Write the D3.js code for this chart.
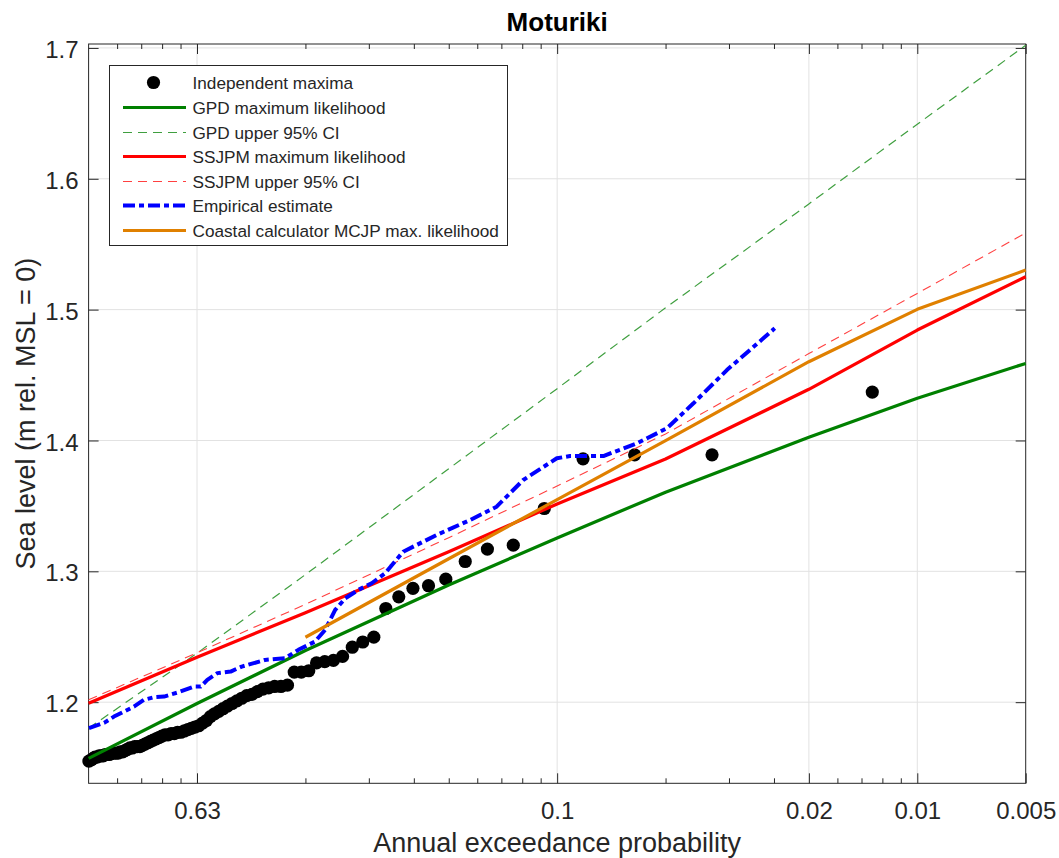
<!DOCTYPE html>
<html><head><meta charset="utf-8">
<script src="https://cdn.jsdelivr.net/npm/d3@7"></script>
<style>body{margin:0;background:#fff}svg{display:block}</style>
</head><body><svg id="c" width="1059" height="858"></svg>
<script>
// ---------- data ----------
const title = "Moturiki";
const xLabel = "Annual exceedance probability";
const yLabel = "Sea level (m rel. MSL = 0)";
// x axis is average recurrence interval (years), labelled by AEP
const xTickARI = [1, 10, 50, 100, 200];
const xTickLabels = ["0.63", "0.1", "0.02", "0.01", "0.005"];
const xMinorARI = [0.6, 0.7, 0.8, 0.9, 2, 3, 4, 5, 6, 7, 8, 9, 20, 30, 40, 60, 70, 80, 90];
const yTicks = [1.2, 1.3, 1.4, 1.5, 1.6, 1.7];

// Independent maxima
const maximaARI = [75.0, 26.92, 16.41, 11.80, 9.211, 7.554, 6.402, 5.556, 4.907, 4.393, 3.977, 3.633, 3.344, 3.097,
  2.885, 2.699, 2.536, 2.392, 2.263, 2.147, 2.043, 1.948, 1.862, 1.783, 1.710, 1.643, 1.581, 1.524, 1.470, 1.421,
  1.374, 1.331, 1.291, 1.251, 1.215, 1.181, 1.149, 1.118, 1.089, 1.062, 1.036, 1.011, 0.987, 0.964, 0.943, 0.922,
  0.902, 0.883, 0.865, 0.847, 0.831, 0.815, 0.799, 0.784, 0.770, 0.756, 0.743, 0.730, 0.717, 0.705, 0.694, 0.682,
  0.671, 0.661, 0.651, 0.641, 0.631, 0.622, 0.613, 0.604, 0.595, 0.587, 0.579, 0.571, 0.563, 0.556, 0.549, 0.542,
  0.535, 0.528, 0.521, 0.515, 0.509, 0.501];
const maximaLevel = [1.437, 1.389, 1.389, 1.386, 1.348, 1.320, 1.317, 1.3075, 1.294, 1.289, 1.287, 1.2805, 1.2716, 1.2497,
  1.246, 1.242, 1.235, 1.232, 1.231, 1.230, 1.224, 1.223, 1.223, 1.213, 1.212, 1.212, 1.211, 1.210, 1.208, 1.206,
  1.205, 1.203, 1.201, 1.199, 1.197, 1.195, 1.193, 1.191, 1.189, 1.186, 1.184, 1.182, 1.181, 1.180, 1.179, 1.178,
  1.177, 1.177, 1.176, 1.176, 1.175, 1.175, 1.174, 1.173, 1.172, 1.171, 1.170, 1.169, 1.168, 1.167, 1.166, 1.166,
  1.166, 1.165, 1.165, 1.164, 1.163, 1.162, 1.162, 1.161, 1.161, 1.161, 1.161, 1.160, 1.160, 1.160, 1.159, 1.159,
  1.159, 1.158, 1.158, 1.157, 1.156, 1.155];

const fitARI = [0.5, 1, 2, 5, 10, 20, 50, 100, 200];
const gpdML = [1.157, 1.199, 1.2395, 1.2895, 1.3255, 1.3605, 1.4025, 1.4322, 1.4589];
const gpdUpper = [1.1801, 1.2374, 1.2975, 1.3784, 1.4396, 1.5014, 1.5808, 1.6417, 1.702];
const ssjpmML = [1.1992, 1.2344, 1.2684, 1.3149, 1.3515, 1.3858, 1.4391, 1.4844, 1.5251];
const ssjpmUpper = [1.2018, 1.2377, 1.2748, 1.3257, 1.3652, 1.405, 1.4664, 1.5124, 1.5586];

const empiricalARI = [0.501, 0.552, 0.588, 0.668, 0.712, 0.760, 0.810, 0.882, 0.981, 1.024, 1.068, 1.139, 1.240,
  1.331, 1.544, 1.756, 1.912, 2.126, 2.268, 2.419, 2.580, 2.805, 3.055, 3.328, 3.737, 4.628, 5.73, 6.79, 8.05,
  9.98, 10.86, 13.44, 16.64, 20.17, 23.9, 29.6, 40.2];
const empiricalLevel = [1.1801, 1.1842, 1.189, 1.1966, 1.2018, 1.2038, 1.2043, 1.2073, 1.2119, 1.2119, 1.217, 1.2222, 1.2234,
  1.2272, 1.2323, 1.2336, 1.240, 1.2463, 1.2552, 1.2705, 1.2794, 1.2858, 1.2909, 1.2985, 1.315, 1.3278, 1.3392, 1.3494, 1.3698,
  1.3864, 1.3881, 1.3881, 1.3978, 1.4093, 1.4284, 1.4538, 1.4857];

const mcjpARI = [2, 5, 10, 20, 50, 100, 200];
const mcjpML = [1.2496, 1.3096, 1.3548, 1.3999, 1.4602, 1.5002, 1.5302];

const legendLabels = ["Independent maxima", "GPD maximum likelihood", "GPD upper 95% CI", "SSJPM maximum likelihood",
  "SSJPM upper 95% CI", "Empirical estimate", "Coastal calculator MCJP max. likelihood"];

// ---------- drawing ----------
const FONT = "'Liberation Sans', Arial, Helvetica, sans-serif";
const AX = "#262626";
const svg = d3.select("#c");
const L = 88.6, R = 1025.7, T = 44, B = 783.3;
const x = d3.scaleLog().domain([0.5, 200]).range([L, R]);
const y = d3.scaleLinear().domain([1.138, 1.703]).range([B, T]);

svg.append("rect").attr("width", 1059).attr("height", 858).attr("fill", "#fff");

// grid
const grid = svg.append("g").attr("stroke", "#e2e2e2").attr("stroke-width", 1);
xTickARI.slice(0, 4).forEach(d => grid.append("line").attr("x1", x(d)).attr("x2", x(d)).attr("y1", T).attr("y2", B));
yTicks.forEach(d => grid.append("line").attr("x1", L).attr("x2", R).attr("y1", y(d)).attr("y2", y(d)));

// axes
function styleAxis(g) {
  g.select(".domain").remove();
  g.selectAll(".tick line").attr("stroke", AX);
  g.selectAll(".tick text").attr("fill", AX).style("font-family", FONT).style("font-size", "24px");
}
svg.append("g").attr("transform", `translate(0,${B})`)
  .call(d3.axisBottom(x).tickValues(xTickARI).tickFormat((d, i) => xTickLabels[i]).tickSize(-10).tickPadding(19))
  .call(styleAxis);
svg.append("g").attr("transform", `translate(0,${B})`)
  .call(d3.axisBottom(x).tickValues(xMinorARI).tickFormat("").tickSize(-5)).call(styleAxis);
svg.append("g").attr("transform", `translate(0,${T})`)
  .call(d3.axisTop(x).tickValues(xTickARI).tickFormat("").tickSize(-10)).call(styleAxis);
svg.append("g").attr("transform", `translate(0,${T})`)
  .call(d3.axisTop(x).tickValues(xMinorARI).tickFormat("").tickSize(-5)).call(styleAxis);
svg.append("g").attr("transform", `translate(${L},0)`)
  .call(d3.axisLeft(y).tickValues(yTicks).tickFormat(d3.format(".1f")).tickSize(-10).tickPadding(10))
  .call(styleAxis).selectAll(".tick text").attr("dy", "0.4em");
svg.append("g").attr("transform", `translate(${R},0)`)
  .call(d3.axisRight(y).tickValues(yTicks).tickFormat("").tickSize(-10)).call(styleAxis);

svg.append("rect").attr("x", L).attr("y", T).attr("width", R - L).attr("height", B - T)
  .attr("fill", "none").attr("stroke", AX).attr("stroke-width", 1);

// marks
const line = d3.line().x(d => x(d[0])).y(d => y(d[1]));
const zip = (a, b) => a.map((v, i) => [v, b[i]]);

svg.append("g").selectAll("circle").data(zip(maximaARI, maximaLevel)).join("circle")
  .attr("cx", d => x(d[0])).attr("cy", d => y(d[1])).attr("r", 6.6).attr("fill", "#000");

const styles = {
  gpdML: {stroke: "#008000", w: 3.2, dash: null},
  gpdUp: {stroke: "#3f9f3f", w: 1.2, dash: "9,6"},
  ssML: {stroke: "#ff0000", w: 3.2, dash: null},
  ssUp: {stroke: "#ff4040", w: 1.1, dash: "9,6"},
  emp: {stroke: "#0000ff", w: 4, dash: "12,4,5,4"},
  mcjp: {stroke: "#e08000", w: 3.2, dash: null}
};
function drawLine(data, st) {
  svg.append("path").datum(data).attr("d", line).attr("fill", "none")
    .attr("stroke", st.stroke).attr("stroke-width", st.w)
    .attr("stroke-dasharray", st.dash).attr("stroke-linejoin", "round");
}
drawLine(zip(fitARI, gpdML), styles.gpdML);
drawLine(zip(fitARI, gpdUpper), styles.gpdUp);
drawLine(zip(fitARI, ssjpmML), styles.ssML);
drawLine(zip(fitARI, ssjpmUpper), styles.ssUp);
drawLine(zip(empiricalARI, empiricalLevel), styles.emp);
drawLine(zip(mcjpARI, mcjpML), styles.mcjp);

// legend
const lg = svg.append("g");
lg.append("rect").attr("x", 109.5).attr("y", 65.5).attr("width", 398).attr("height", 180)
  .attr("fill", "#fff").attr("stroke", AX).attr("stroke-width", 1);
const legStyles = [null, styles.gpdML, styles.gpdUp, styles.ssML, styles.ssUp, styles.emp, styles.mcjp];
legendLabels.forEach((t, i) => {
  const cy = Math.round(82.3 + i * 24.6) + 0.5;
  if (i === 0) {
    lg.append("circle").attr("cx", 153.5).attr("cy", cy).attr("r", 6.6).attr("fill", "#000");
  } else {
    const st = legStyles[i];
    lg.append("line").attr("x1", 123).attr("x2", 186).attr("y1", cy).attr("y2", cy)
      .attr("stroke", st.stroke).attr("stroke-width", st.w).attr("stroke-dasharray", st.dash);
  }
  lg.append("text").attr("x", 192.5).attr("y", cy + 6).text(t)
    .attr("fill", AX).style("font-family", FONT).style("font-size", "17.2px");
});

// titles
svg.append("text").attr("x", (L + R) / 2).attr("y", 31).attr("text-anchor", "middle").text(title)
  .attr("fill", "#000").style("font-family", FONT).style("font-size", "26px").style("font-weight", "bold");
svg.append("text").attr("x", (L + R) / 2).attr("y", 852).attr("text-anchor", "middle").text(xLabel)
  .attr("fill", AX).style("font-family", FONT).style("font-size", "27px");
svg.append("text").attr("transform", `translate(35,${(T + B) / 2}) rotate(-90)`).attr("text-anchor", "middle").text(yLabel)
  .attr("fill", AX).style("font-family", FONT).style("font-size", "27px");
</script></body></html>
